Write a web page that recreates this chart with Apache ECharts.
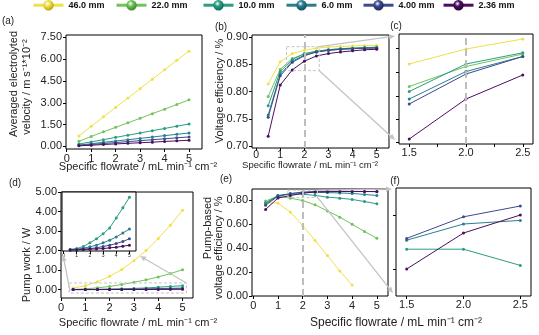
<!DOCTYPE html>
<html><head><meta charset="utf-8">
<script src="https://cdn.jsdelivr.net/npm/echarts@6/dist/echarts.min.js"></script>
<style>html,body{margin:0;padding:0;background:#fff}#c{width:539px;height:335px}</style>
</head><body><div id="c"></div>
<script>
// ---------- data ----------
const names = ['46.0 mm','22.0 mm','10.0 mm','6.0 mm','4.00 mm','2.36 mm'];
const colors = ['#f0e04a','#72c35a','#2a9d84','#2a7f8e','#3c4b8c','#4b0f5e'];
const darkColors = ['#b8a800','#3d8a2a','#136a58','#134f5e','#1e2960','#2a0038'];
const flowrate = [0.5,1,1.5,2,2.5,3,3.5,4,4.5,5];
const flowrateZoom = [1.5,2,2.5];
// (a) averaged electrolyte velocity
const velocity = [
 [0.72,1.38,2.03,2.68,3.32,3.97,4.62,5.27,5.92,6.55],
 [0.35,0.68,1.00,1.31,1.62,1.93,2.25,2.56,2.88,3.20],
 [0.16,0.31,0.46,0.62,0.77,0.92,1.08,1.23,1.39,1.54],
 [0.09,0.18,0.28,0.37,0.46,0.55,0.64,0.74,0.83,0.92],
 [0.07,0.13,0.20,0.26,0.33,0.39,0.46,0.52,0.59,0.65],
 [0.04,0.08,0.13,0.17,0.21,0.25,0.29,0.34,0.38,0.42]
];
// (b),(c) voltage efficiency
const voltEff = [
 [0.814,0.855,0.870,0.876,0.880,0.882,0.883,0.884,0.885,0.885],
 [0.791,0.841,0.861,0.869,0.874,0.877,0.879,0.880,0.881,0.882],
 [0.774,0.837,0.859,0.870,0.8745,0.877,0.879,0.880,0.881,0.881],
 [0.757,0.832,0.856,0.867,0.873,0.876,0.878,0.879,0.880,0.881],
 [0.753,0.829,0.854,0.866,0.873,0.876,0.878,0.879,0.880,0.880],
 [0.718,0.812,0.840,0.856,0.8656,0.870,0.873,0.875,0.877,0.878]
];
// (d) pump work
const pumpWork = [
 [0.08,0.20,0.40,0.68,1.03,1.48,2.00,2.62,3.30,4.07],
 [0.01,0.04,0.09,0.16,0.26,0.38,0.50,0.65,0.82,1.02],
 [0.0025,0.006,0.014,0.028,0.043,0.062,0.084,0.122,0.160,0.200],
 [0.0025,0.004,0.0075,0.013,0.019,0.028,0.038,0.050,0.065,0.080],
 [0.001,0.0025,0.004,0.006,0.009,0.014,0.019,0.025,0.033,0.043],
 [0.001,0.001,0.0025,0.004,0.005,0.006,0.009,0.011,0.015,0.019]
];
// (e),(f) pump-based voltage efficiency
const pumpEff = [
 [0.775,0.773,0.698,0.586,0.461,0.336,0.208,0.092],
 [0.790,0.830,0.814,0.794,0.758,0.708,0.656,0.597,0.536,0.481],
 [0.775,0.835,0.846,0.846,0.837,0.822,0.814,0.803,0.786,0.767],
 [0.765,0.835,0.851,0.860,0.862,0.860,0.857,0.853,0.845,0.836],
 [0.755,0.830,0.852,0.864,0.870,0.871,0.871,0.870,0.869,0.868],
 [0.720,0.815,0.835,0.855,0.865,0.868,0.869,0.869,0.869,0.869]
];
const ticksA = [0,1.5,3,4.5,6,7.5];
const ticksB = [0.70,0.75,0.80,0.85,0.90];
const ticksD = [0,1,2,3,4,5];
const ticksE = [0,0.2,0.4,0.6,0.8];
const ticksX = [0,1,2,3,4,5];
const ticksZoomX = [1.5,2,2.5];

// ---------- chart ----------
const FONT = '"Liberation Sans", Arial, sans-serif';
const chart = echarts.init(document.getElementById('c'));
const gridBase = {show:true, borderColor:'#000', borderWidth:1, backgroundColor:'transparent'};
const grids = [
 {left:66, top:35, width:136, height:114},
 {left:252, top:35, width:137, height:113},
 {left:399, top:34, width:134, height:110},
 {left:61, top:192, width:132, height:106},
 {left:62, top:192, width:74, height:59, backgroundColor:'#fff'},
 {left:252, top:189, width:136, height:107},
 {left:396, top:188, width:135, height:108}
].map(g => Object.assign({}, gridBase, g));

function lab(vals, dec, extra) {
  return Object.assign({show:true, customValues: vals, formatter: v => (+v).toFixed(dec),
    fontSize:11, color:'#222', fontFamily:FONT, margin:4}, extra || {});
}
function axis(gi, min, max, tickVals, label, extra) {
  return Object.assign({
    gridIndex: gi, type:'value', min, max,
    axisLine:{show:false, onZero:false},
    splitLine:{show:false},
    axisTick: tickVals ? {show:true, customValues: tickVals, length:3, lineStyle:{color:'#000', width:1}} : {show:false},
    axisLabel: label || {show:false}
  }, extra || {});
}
const xAxes = [
 axis(0, -0.03, 5.53, ticksX, lab(ticksX, 0)),
 axis(1, -0.17, 5.51, ticksX, lab(ticksX, 0, {fontSize:10.5, margin:2})),
 axis(2, 1.41, 2.59, [1.5,1.75,2,2.25,2.5], lab(ticksZoomX, 1, {margin:3})),
 axis(3, 0, 5.43, ticksX, lab(ticksX, 0)),
 axis(4, -0.12, 5.5, ticksX, lab(ticksX, 0, {fontSize:5, margin:2})),
 axis(5, -0.05, 5.45, ticksX, lab(ticksX, 0)),
 axis(6, 1.406, 2.594, ticksZoomX, lab(ticksZoomX, 1, {margin:3}))
];
const yAxes = [
 axis(0, -0.18, 7.66, ticksA, lab(ticksA, 2)),
 axis(1, 0.6963, 0.9042, ticksB, lab(ticksB, 2)),
 axis(2, 0.838, 0.882, [0.8385,0.8479,0.8572,0.8667,0.8763], null),
 axis(3, -0.43, 5.0, ticksD, lab(ticksD, 2)),
 axis(4, -0.003, 0.22, null, null),
 axis(5, 0, 0.89, ticksE, lab(ticksE, 2)),
 axis(6, 0.82, 0.88, [0.835,0.865], null)
];

function mk(idx, gi, xs, ys, extra) {
  const c = colors[idx];
  return Object.assign({
    name: names[idx], type:'line', xAxisIndex: gi, yAxisIndex: gi,
    data: ys.map((v, i) => [xs[i], v]),
    symbol:'circle', symbolSize:3, showSymbol:true,
    lineStyle:{width:1, color:c}, itemStyle:{color:c},
    animation:false, emphasis:{disabled:true}, silent:true
  }, extra || {});
}
const vLine = {silent:true, symbol:['none','none'], label:{show:false}, animation:false,
  lineStyle:{color:'#bdbdbd', width:2, type:[7,4]}, data:[{xAxis:2}]};

const series = [];
for (let i = 0; i < 6; i++) series.push(mk(i, 0, flowrate, velocity[i]));
for (let i = 0; i < 6; i++) series.push(mk(i, 1, flowrate, voltEff[i], i===0?{markLine:vLine}:{}));
for (let i = 0; i < 6; i++) series.push(mk(i, 2, flowrateZoom, voltEff[i].slice(2,5), i===0?{markLine:vLine}:{}));
for (let i = 0; i < 6; i++) series.push(mk(i, 3, flowrate, pumpWork[i]));
for (let i = 2; i < 6; i++) series.push(mk(i, 4, flowrate, pumpWork[i], {z:6}));
for (let i = 0; i < 6; i++) series.push(mk(i, 5, flowrate, pumpEff[i], i===0?{markLine:vLine}:{}));
for (let i = 2; i < 6; i++) series.push(mk(i, 6, flowrateZoom, pumpEff[i].slice(2,5)));

const legendLefts = [32,115,202,285,362,442];
const legends = names.map((n, i) => ({
  data:[n], left: legendLefts[i], top: 0, padding: 0,
  itemWidth: 30, itemHeight: 13, itemGap: 0, selectedMode: false,
  lineStyle:{width:3, color: colors[i]},
  itemStyle:{color:{type:'radial', x:0.4, y:0.35, r:0.65, colorStops:[
    {offset:0, color:'#ffffff'}, {offset:0.4, color:colors[i]}, {offset:1, color:darkColors[i]}]}, borderWidth:0},
  textStyle:{fontSize:9, fontWeight:'bold', color:'#111', fontFamily:FONT}
}));

chart.setOption({
  backgroundColor:'#fff', animation:false,
  grid: grids, xAxis: xAxes, yAxis: yAxes, legend: legends, series
});

// ---------- annotations ----------
function P(gi, x, y) { return chart.convertToPixel({gridIndex: gi}, [x, y]); }
function txt(s, x, y, size, rot, align) {
  return {type:'text', x, y, rotation: rot ? Math.PI/2 : 0, silent:true, z:10,
    style:{text:s, fontSize:size, fontFamily:FONT, fill:'#222', align: align || 'center', verticalAlign:'middle'}};
}
const GRAY = '#c4c4c4';
function arrow(p0, p1) {
  const dx = p1[0]-p0[0], dy = p1[1]-p0[1], L = Math.hypot(dx, dy), ux = dx/L, uy = dy/L;
  const hl = 6, hw = 2.6;
  const b = [p1[0]-ux*hl, p1[1]-uy*hl];
  return [
    {type:'line', silent:true, z:8, shape:{x1:p0[0], y1:p0[1], x2:b[0], y2:b[1]}, style:{stroke:GRAY, lineWidth:1.3}},
    {type:'polygon', silent:true, z:8, shape:{points:[p1, [b[0]-uy*hw, b[1]+ux*hw], [b[0]+uy*hw, b[1]-ux*hw]]}, style:{fill:GRAY}}
  ];
}
function dashRect(gi, x0, y0, x1, y1) {
  const a = P(gi, x0, y0), b = P(gi, x1, y1);
  return {type:'rect', silent:true, z:7, shape:{x:Math.min(a[0],b[0]), y:Math.min(a[1],b[1]), width:Math.abs(b[0]-a[0]), height:Math.abs(b[1]-a[1])},
    style:{fill:null, stroke:GRAY, lineWidth:1, lineDash:[3,2]}};
}
const g = [];
// (b) -> (c)
g.push(dashRect(1, 1.26, 0.8827, 2.62, 0.8386));
{
  const tr = P(1, 2.62, 0.8827), br = P(1, 2.62, 0.8386);
  const ctl = P(2, 1.41, 0.882), cbl = P(2, 1.41, 0.838);
  g.push(...arrow(tr, [ctl[0]-4, ctl[1]+2]));
  g.push(...arrow(br, [cbl[0]-4, cbl[1]-4]));
}
// (d) -> inset
g.push(dashRect(3, 0.33, 0.34, 5.16, -0.175));
{
  const bl = P(3, 0.33, -0.175), tr = P(3, 5.16, 0.34);
  const ibl = P(4, -0.12, -0.003), ibr = P(4, 5.5, -0.003);
  g.push(...arrow([bl[0]+1, bl[1]-2], [ibl[0]+1, ibl[1]+4]));
  g.push(...arrow(tr, [ibr[0]+4, ibr[1]+5]));
}
// (e) -> (f)
g.push(dashRect(5, 1.4, 0.88, 2.6, 0.82));
{
  const tr = P(5, 2.6, 0.88), br = P(5, 2.6, 0.82);
  const ftl = P(6, 1.406, 0.88), fbl = P(6, 1.406, 0.82);
  g.push(...arrow(tr, [ftl[0]-4, ftl[1]+1]));
  g.push(...arrow(br, [fbl[0]-3, fbl[1]-3]));
}
// texts
const XT = 'Specific flowrate / mL min\u207B\u00B9 cm\u207B\u00B2';
g.push(txt('(a)', 8, 21, 10));
g.push(txt('(b)', 221, 27, 10));
g.push(txt('(c)', 396, 26, 10));
g.push(txt('(d)', 15, 183, 10));
g.push(txt('(e)', 226, 179, 10));
g.push(txt('(f)', 395, 181, 10));
g.push(txt('Averaged electrolyted', 14, 84, 11, true));
g.push(txt('velocity / m s\u207B\u00B9*10\u207B\u00B2', 27, 87, 11, true));
g.push(txt('Voltage efficiency / %', 220, 91, 11, true));
g.push(txt(XT, 138, 167, 11));
g.push(txt(XT, 310, 165, 9.5));
g.push(txt('Pump work / W', 27, 265, 11, true));
g.push(txt(XT, 138, 323, 11));
g.push(txt('Pump-based', 208, 228, 11, true));
g.push(txt('voltage efficiency / %', 219, 248, 11, true));
g.push(txt(XT, 396, 323, 12));

chart.setOption({graphic: g});
</script>
</body></html>
